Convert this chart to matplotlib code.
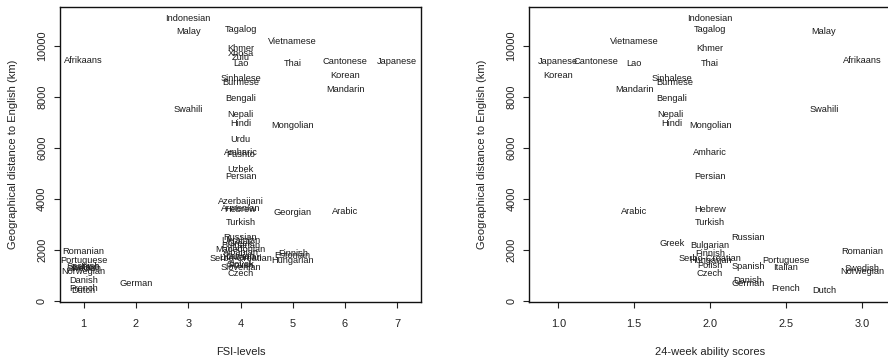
import numpy as np
import matplotlib
matplotlib.use("Agg")
import matplotlib.pyplot as plt

plt.rcParams['font.family'] = ['Liberation Sans', 'DejaVu Sans']

languages = ["Indonesian", "Malay", "Tagalog", "Vietnamese", "Khmer", "Xhosa", "Zulu",
             "Afrikaans", "Cantonese", "Japanese", "Thai", "Lao", "Korean", "Sinhalese",
             "Burmese", "Mandarin", "Bengali", "Swahili", "Nepali", "Hindi", "Mongolian",
             "Urdu", "Amharic", "Pashto", "Uzbek", "Persian", "Azerbaijani", "Armenian",
             "Hebrew", "Arabic", "Georgian", "Turkish", "Russian", "Ukrainian", "Greek",
             "Bulgarian", "Macedonian", "Romanian", "Albanian", "Finnish", "Estonian",
             "Latvian", "Lithuanian", "Serbo-Croatian", "Portuguese", "Hungarian", "Slovak",
             "Polish", "Spanish", "Italian", "Slovenian", "Swedish", "Norwegian", "Czech",
             "Danish", "German", "French", "Dutch"]

distance_km = [11075, 10560, 10641, 10145, 9885, 9703, 9547,
               9430, 9390, 9363, 9313, 9280, 8840, 8711,
               8555, 8270, 7940, 7477, 7293, 6941, 6875,
               6316, 5820, 5740, 5145, 4850, 3895, 3633,
               3595, 3504, 3477, 3055, 2480, 2344, 2227,
               2148, 1992, 1914, 1900, 1860, 1790,
               1720, 1680, 1650, 1590, 1565, 1420,
               1367, 1355, 1316, 1305, 1266, 1133, 1060,
               797, 666, 480, 400]

fsi_level = [3, 3, 4, 5, 4, 4, 4,
             1, 6, 7, 5, 4, 6, 4,
             4, 6, 4, 3, 4, 4, 5,
             4, 4, 4, 4, 4, 4, 4,
             4, 6, 5, 4, 4, 4, 4,
             4, 4, 1, 4, 5, 5,
             4, 4, 4, 1, 5, 4,
             4, 1, 1, 4, 1, 1, 4,
             1, 2, 1, 1]

ability_score = [2.0, 2.75, 2.0, 1.5, 2.0, None, None,
                 3.0, 1.25, 1.0, 2.0, 1.5, 1.0, 1.75,
                 1.77, 1.5, 1.75, 2.75, 1.74, 1.75, 2.0,
                 None, 2.0, None, None, 2.0, None, None,
                 2.0, 1.5, None, 2.0, 2.25, None, 1.75,
                 2.0, None, 3.0, None, 2.0, None,
                 None, None, 2.0, 2.5, 2.0, None,
                 2.0, 2.25, 2.5, None, 3.0, 3.0, 2.0,
                 2.25, 2.25, 2.5, 2.75]

fsi_ticks = [1, 2, 3, 4, 5, 6, 7]
score_ticks = [1.0, 1.5, 2.0, 2.5, 3.0]
score_ticklabels = ["1.0", "1.5", "2.0", "2.5", "3.0"]
dist_ticks = [0, 2000, 4000, 6000, 8000, 10000]

W, H = 888, 358
fig = plt.figure(figsize=(W / 100, H / 100), dpi=100)

bottom = 1 - 301.7 / H
top = 1 - 7.2 / H
ax_w = 361 / W
ax1 = fig.add_axes([60 / W, bottom, ax_w, top - bottom])
ax2 = fig.add_axes([529.3 / W, bottom, ax_w, top - bottom])

txtcol = "#1a1a1a"
label_fs = 6.7
tick_fs = 7.9

def style(ax, xticks, xticklabels, xlabel, xlim):
    ax.set_xlim(*xlim)
    ax.set_ylim(-36, 11502)
    ax.set_xticks(xticks)
    ax.set_xticklabels(xticklabels)
    ax.set_yticks(dist_ticks)
    ax.set_yticklabels([str(t) for t in dist_ticks], rotation=90, va='center')
    ax.tick_params(axis='both', direction='out', length=4.3, width=0.8,
                   labelsize=tick_fs, colors="#222222")
    ax.tick_params(axis='x', pad=8.0)
    ax.tick_params(axis='y', pad=5.0)
    for s in ax.spines.values():
        s.set_linewidth(1.0)
        s.set_color("#111111")
    ax.set_xlabel(xlabel, fontsize=8.0, color="#222222")
    ax.xaxis.set_label_coords(0.5, -50 / 294.5)
    ax.xaxis.label.set_va('center')
    ax.set_ylabel("Geographical distance to English (km)", fontsize=8.0, color="#222222")
    ax.yaxis.set_label_coords(-0.131, 0.5)
    ax.yaxis.label.set_va('center')

style(ax1, fsi_ticks, [str(t) for t in fsi_ticks], "FSI-levels", (0.547, 7.453))
style(ax2, score_ticks, score_ticklabels, "24-week ability scores", (0.809, 3.187))

for lang, d, f, s in zip(languages, distance_km, fsi_level, ability_score):
    ax1.text(f, d, lang, ha='center', va='center', fontsize=label_fs, color=txtcol)
    if s is not None:
        ax2.text(s, d, lang, ha='center', va='center', fontsize=label_fs, color=txtcol,
                 clip_on=False)

fig.savefig("out.png", dpi=100)
